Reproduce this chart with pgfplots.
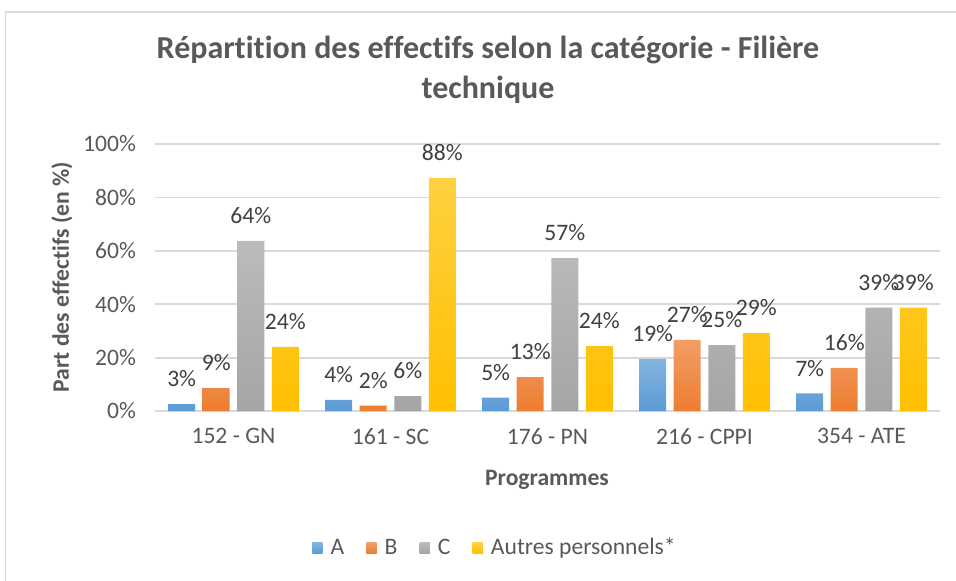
\documentclass[border=0pt]{standalone}
\usepackage{pgfplots}
\pgfplotsset{compat=1.18}
\usepackage{fontspec}
\setmainfont{Carlito}[Ligatures=NoCommon]
\definecolor{cA}{HTML}{5B9BD5}
\definecolor{cB}{HTML}{ED7D31}
\definecolor{cC}{HTML}{A5A5A5}
\definecolor{cD}{HTML}{FFC000}
\definecolor{txt}{HTML}{595959}
\definecolor{lbl}{HTML}{404040}
\definecolor{gridc}{HTML}{D9D9D9}
\definecolor{basec}{HTML}{BFBFBF}
\begin{document}
\begin{tikzpicture}
\clip (0,0) rectangle (478pt,290pt);
\path[use as bounding box] (0,0) rectangle (478pt,290pt);
\draw[gridc, line width=0.8pt] (2.75pt,-20pt) -- (2.75pt,284pt) -- (520pt,284pt);
\begin{axis}[
  at={(77.5pt,84.5pt)}, anchor=south west,
  scale only axis, width=392.5pt, height=133.5pt,
  xmin=-0.5, xmax=4.5, ymin=0, ymax=100,
  xtick={0,1,2,3,4},
  xticklabels={152 - GN, 161 - SC, 176 - PN, 216 - CPPI, 354 - ATE},
  ytick={0,20,40,60,80,100},
  yticklabels={0\%,20\%,40\%,60\%,80\%,100\%},
  axis line style={draw=none},
  major tick length=0pt,
  ymajorgrids, major grid style={gridc, line width=0.9pt},
  extra y ticks={0}, extra y tick labels={},
  extra y tick style={grid style={basec, line width=0.9pt}},
  tick label style={font=\fontsize{11.8}{14}\selectfont, color=txt},
  yticklabel style={xshift=-6pt},
  xticklabel style={yshift=-5pt},
  /pgf/number format/assume math mode=true,
  ybar, bar width=0.172,
  point meta=explicit symbolic,
  nodes near coords={\pgfplotspointmeta\%},
  every node near coord/.append style={font=\fontsize{11.8}{14}\selectfont, color=lbl, anchor=south, yshift=5pt},
  legend style={at={(0.4344,-0.513)}, anchor=center, draw=none, fill=none,
    legend columns=4, font=\fontsize{11.8}{14}\selectfont, text=txt,
    /tikz/every even column/.append style={column sep=9pt},
    /tikz/every odd column/.append style={column sep=2pt}},
  legend image code/.code={\fill[#1] (0pt,-2.6pt) rectangle (5.2pt,2.6pt);},
]
\addplot[draw=none, top color=cA!75!white, bottom color=cA, bar shift=-0.33] coordinates {
 (0,2.6) [3] (1,4.2) [4] (2,5.0) [5] (3,19.5) [19] (4,6.6) [7]};
\addlegendentry{A}
\addplot[draw=none, top color=cB!75!white, bottom color=cB, bar shift=-0.11] coordinates {
 (0,8.6) [9] (1,2.0) [2] (2,12.7) [13] (3,26.6) [27] (4,16.2) [16]};
\addlegendentry{B}
\addplot[draw=none, top color=cC!75!white, bottom color=cC, bar shift=0.11] coordinates {
 (0,63.7) [64] (1,5.6) [6] (2,57.3) [57] (3,24.7) [25] (4,38.7) [39]};
\addlegendentry{C}
\addplot[draw=none, top color=cD!75!white, bottom color=cD, bar shift=0.33] coordinates {
 (0,24.0) [24] (1,87.3) [88] (2,24.3) [24] (3,29.2) [29] (4,38.7) [39]};
\addlegendentry{Autres personnels*}
\end{axis}
\node[color=txt, font=\bfseries\fontsize{16}{20}\selectfont, align=center] at (244pt,255pt) {Répartition des effectifs selon la catégorie - Filière\\technique};
\node[color=txt, font=\bfseries\fontsize{11.8}{14}\selectfont] at (273.5pt,50pt) {Programmes};
\node[color=txt, font=\bfseries\fontsize{11.8}{14}\selectfont, rotate=90] at (31pt,151.5pt) {Part des effectifs (en \%)};
\end{tikzpicture}
\end{document}
